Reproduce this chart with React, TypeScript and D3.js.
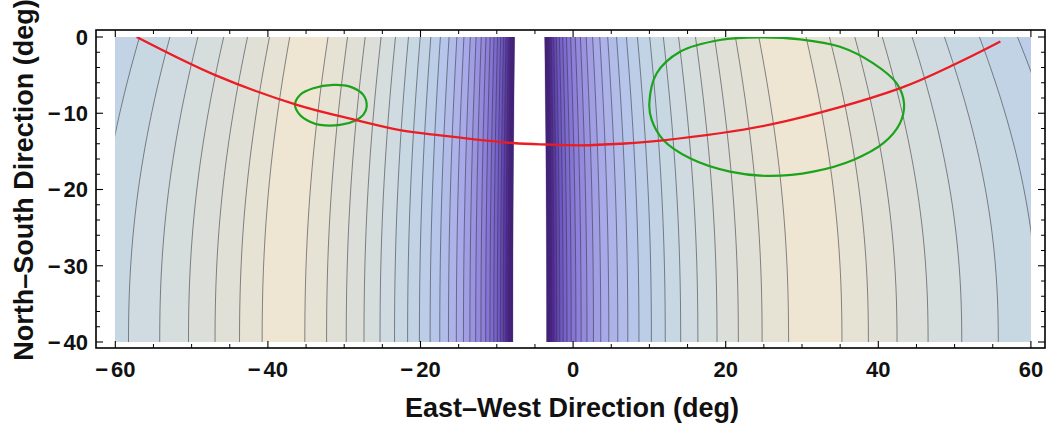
import React, { useMemo } from "react";
import * as d3 from "d3";

// ---------- layout ----------
const W = 1049;
const H = 425;
const FRAME_LEFT = 96;
const FRAME_RIGHT = 1045;
const FRAME_TOP = 30;
const FRAME_BOTTOM = 348;

// ---------- axes ----------
const X_DOMAIN = [-60, 60];
const Y_DOMAIN = [-40, 0];
const X_MAJOR = [-60, -40, -20, 0, 20, 40, 60];
const Y_MAJOR = [0, -10, -20, -30, -40];
const X_LABEL = "East\u2013West Direction (deg)";
const Y_LABEL = "North\u2013South Direction (deg)";

// ---------- field (read from the contour positions) ----------
// side 0 = west of the singular strip, side 1 = east
const STRIP_CENTER = -5.66;
const INNER_ZERO_DIST = [29.5, 33.9]; // distance of level-0 contour on the inner flank (bottom edge)
const INNER_RATIO = [1.107, 1.114]; // distance ratio between successive inner contours
const OUTER_ZERO_DIST = [35.1, 40.9]; // distance of level-0 contour on the outer flank
const OUTER_RATIO = [1.0843, 1.0846];
const TOP_WARP = [0.115, 0.13]; // how much the contours lean inward at the top
const WARP_POWER = 2.2;
const CUTOFF_LEVEL = -25.4;
const CONTOUR_LEVELS = [
  -25, -24, -23, -22, -21, -20, -19, -18, -17, -16, -15, -14, -13, -12, -11, -10,
  -9, -8, -7, -6, -5, -4, -3, -2, -1, 0,
];

// colour map: level -> colour
const COLOR_LEVELS = [1, 0.5, -0.5, -1.5, -2.5, -3.5, -4.5, -5.5, -6.5, -7.5, -8.5, -11.4, -13.5, -16, -19.5, -23, -27];
const COLOR_VALUES = [
  "#efe6d3", "#eee5d3", "#e6e2d4", "#e1e0d6", "#dcdfd9", "#d6dddd", "#d0dbe1", "#c8d8e3",
  "#c2d3e6", "#bccde8", "#b6c5ea", "#a9aae8", "#9a93e0", "#8a7ad8", "#6f58c6", "#4d1f95", "#44168a",
];

// ---------- overlay curves ----------
const SUN_X = [-57.2, -46.9, -36.2, -28.4, -22.7, -17.4, -7.9, -3.5, 1.0, 6.2, 11.4, 25.8, 42.9, 50.3, 56.0];
const SUN_Y = [0.0, -5.0, -8.9, -10.9, -12.2, -12.9, -13.9, -14.1, -14.2, -14.0, -13.6, -11.5, -6.7, -3.45, -0.6];

const SMALL_LOOP_X = [-36.45, -35.79, -34.05, -31.43, -29.24, -27.5, -27.05, -27.5, -28.58, -30.55, -33.17, -34.48, -35.79];
const SMALL_LOOP_Y = [-8.91, -7.6, -6.73, -6.29, -6.51, -7.6, -9.13, -10.22, -10.97, -11.53, -11.53, -11.1, -10.22];

const LARGE_LOOP_X = [9.99, 10.96, 14.01, 19.25, 24.5, 29.74, 34.98, 39.35, 42.41, 43.37, 42.84, 40.66, 36.72, 31.48, 25.81, 20.56, 15.32, 11.82, 10.3];
const LARGE_LOOP_Y = [-8.69, -4.76, -1.93, -0.39, -0.04, -0.3, -1.27, -3.45, -6.07, -8.69, -11.31, -13.93, -16.12, -17.65, -18.22, -17.65, -15.9, -13.5, -10.88];

const FONT = "'Liberation Sans', Arial, Helvetica, sans-serif";

function fieldLevel(x: number, y: number): number {
  const t = Math.max(0, Math.min(1, (y - Y_DOMAIN[0]) / (Y_DOMAIN[1] - Y_DOMAIN[0])));
  const side = x < STRIP_CENTER ? 0 : 1;
  const d = Math.abs(x - STRIP_CENTER) * (1 + TOP_WARP[side] * Math.pow(t, WARP_POWER));
  if (d < 1e-6) return -100;
  const g1 = Math.log(d / INNER_ZERO_DIST[side]) / Math.log(INNER_RATIO[side]);
  const g2 = Math.log(OUTER_ZERO_DIST[side] / d) / Math.log(OUTER_RATIO[side]);
  const k = 3;
  const m = Math.min(g1, g2);
  return m - Math.log(Math.exp(-k * (g1 - m)) + Math.exp(-k * (g2 - m))) / k;
}

function TickText(props: { v: number; x: number; y: number; anchor: string; dy?: string }) {
  const { v, x, y, anchor, dy } = props;
  return (
    <text
      x={x}
      y={y}
      dy={dy}
      textAnchor={anchor as any}
      fontFamily={FONT}
      fontWeight="bold"
      fontSize={22}
      fill="#111"
    >
      {v < 0 ? (
        <>
          <tspan>{"\u2212"}</tspan>
          <tspan dx={3}>{String(Math.abs(v))}</tspan>
        </>
      ) : (
        String(v)
      )}
    </text>
  );
}

export default function App() {
  const xScale = d3.scaleLinear().domain(X_DOMAIN).range([115.3, 1030.9]);
  const yScale = d3.scaleLinear().domain(Y_DOMAIN).range([342, 37]);

  const px0 = xScale(X_DOMAIN[0]);
  const px1 = xScale(X_DOMAIN[1]);
  const py0 = yScale(Y_DOMAIN[1]);
  const py1 = yScale(Y_DOMAIN[0]);

  const color = d3
    .scaleLinear<string>()
    .domain(COLOR_LEVELS.slice().reverse())
    .range(COLOR_VALUES.slice().reverse())
    .interpolate(d3.interpolateRgb)
    .clamp(true);

  const { gx0, gy0, bands, lines } = useMemo(() => {
    const gx0 = Math.floor(px0) - 2;
    const gx1 = Math.ceil(px1) + 2;
    const gy0 = Math.floor(py0) - 2;
    const gy1 = Math.ceil(py1) + 2;
    const n = gx1 - gx0 + 1;
    const m = gy1 - gy0 + 1;
    const values = new Float64Array(n * m);
    for (let j = 0; j < m; j++) {
      const y = yScale.invert(gy0 + j);
      for (let i = 0; i < n; i++) {
        values[i + j * n] = fieldLevel(xScale.invert(gx0 + i), y);
      }
    }
    const thresholds = [CUTOFF_LEVEL, ...CONTOUR_LEVELS];
    const contours = d3.contours().size([n, m]).thresholds(thresholds)(Array.from(values));
    const path = d3.geoPath();
    const bands = contours.map((c, idx) => {
      const lo = thresholds[idx];
      const hi = idx + 1 < thresholds.length ? thresholds[idx + 1] : lo + 1;
      return { d: path(c as any) || "", fill: color((lo + hi) / 2) };
    });
    const lines = contours
      .filter((c, idx) => idx > 0)
      .map((c) => ({ d: path(c as any) || "", v: c.value }));
    return { gx0, gy0, bands, lines };
  }, []);

  const sunLine = d3
    .line<number>()
    .x((i) => xScale(SUN_X[i]))
    .y((i) => yScale(SUN_Y[i]))
    .curve(d3.curveCatmullRom.alpha(0.5));
  const loop = (xs: number[], ys: number[]) =>
    d3
      .line<number>()
      .x((i) => xScale(xs[i]))
      .y((i) => yScale(ys[i]))
      .curve(d3.curveCatmullRomClosed.alpha(0.5))(d3.range(xs.length)) || "";

  const xMinor = d3.range(-60, 61, 5).filter((v) => v % 20 !== 0);
  const yMinor = d3.range(-40, 1, 2).filter((v) => v % 10 !== 0);
  const majLen = 7;
  const minLen = 4;

  return (
    <svg
      width={W}
      height={H}
      style={{ position: "absolute", left: 0, top: 0, background: "#fff" }}
      xmlns="http://www.w3.org/2000/svg"
    >
      <defs>
        <clipPath id="plotClip">
          <rect x={px0} y={py0} width={px1 - px0} height={py1 - py0} />
        </clipPath>
      </defs>
      <rect x={0} y={0} width={W} height={H} fill="#fff" />
      <g clipPath="url(#plotClip)">
        <g transform={`translate(${gx0 - 0.5},${gy0 - 0.5})`}>
          {bands.map((b, i) => (
            <path key={"b" + i} d={b.d} fill={b.fill} stroke={b.fill} strokeWidth={0.3} />
          ))}
          {lines.map((l, i) => (
            <path key={"l" + i} d={l.d} fill="none" stroke="#34343e" strokeOpacity={0.6} strokeWidth={0.95} />
          ))}
        </g>
        <path d={loop(SMALL_LOOP_X, SMALL_LOOP_Y)} fill="none" stroke="#1ca31c" strokeWidth={2.2} />
        <path d={loop(LARGE_LOOP_X, LARGE_LOOP_Y)} fill="none" stroke="#1ca31c" strokeWidth={2.2} />
        <path d={sunLine(d3.range(SUN_X.length)) || ""} fill="none" stroke="#ec1c24" strokeWidth={2.3} />
      </g>

      {/* frame */}
      <rect
        x={FRAME_LEFT}
        y={FRAME_TOP}
        width={FRAME_RIGHT - FRAME_LEFT}
        height={FRAME_BOTTOM - FRAME_TOP}
        fill="none"
        stroke="#000"
        strokeWidth={1.6}
      />
      {/* x ticks */}
      {X_MAJOR.map((v) => (
        <g key={"xm" + v}>
          <line x1={xScale(v)} x2={xScale(v)} y1={FRAME_BOTTOM} y2={FRAME_BOTTOM - majLen} stroke="#000" strokeWidth={1.1} />
          <line x1={xScale(v)} x2={xScale(v)} y1={FRAME_TOP} y2={FRAME_TOP + majLen} stroke="#000" strokeWidth={1.1} />
          <TickText v={v} x={xScale(v)} y={377} anchor="middle" />
        </g>
      ))}
      {xMinor.map((v) => (
        <g key={"xn" + v}>
          <line x1={xScale(v)} x2={xScale(v)} y1={FRAME_BOTTOM} y2={FRAME_BOTTOM - minLen} stroke="#000" strokeWidth={1} />
          <line x1={xScale(v)} x2={xScale(v)} y1={FRAME_TOP} y2={FRAME_TOP + minLen} stroke="#000" strokeWidth={1} />
        </g>
      ))}
      {/* y ticks */}
      {Y_MAJOR.map((v) => (
        <g key={"ym" + v}>
          <line x1={FRAME_LEFT} x2={FRAME_LEFT + majLen} y1={yScale(v)} y2={yScale(v)} stroke="#000" strokeWidth={1.1} />
          <line x1={FRAME_RIGHT} x2={FRAME_RIGHT - majLen} y1={yScale(v)} y2={yScale(v)} stroke="#000" strokeWidth={1.1} />
          <TickText v={v} x={88} y={yScale(v)} dy="0.36em" anchor="end" />
        </g>
      ))}
      {yMinor.map((v) => (
        <g key={"yn" + v}>
          <line x1={FRAME_LEFT} x2={FRAME_LEFT + minLen} y1={yScale(v)} y2={yScale(v)} stroke="#000" strokeWidth={1} />
          <line x1={FRAME_RIGHT} x2={FRAME_RIGHT - minLen} y1={yScale(v)} y2={yScale(v)} stroke="#000" strokeWidth={1} />
        </g>
      ))}
      {/* axis titles */}
      <text x={572} y={417} textAnchor="middle" fontFamily={FONT} fontWeight="bold" fontSize={27} fill="#111">
        {X_LABEL}
      </text>
      <text
        transform="translate(33,180) rotate(-90)"
        textAnchor="middle"
        fontFamily={FONT}
        fontWeight="bold"
        fontSize={27}
        fill="#111"
      >
        {Y_LABEL}
      </text>
    </svg>
  );
}
